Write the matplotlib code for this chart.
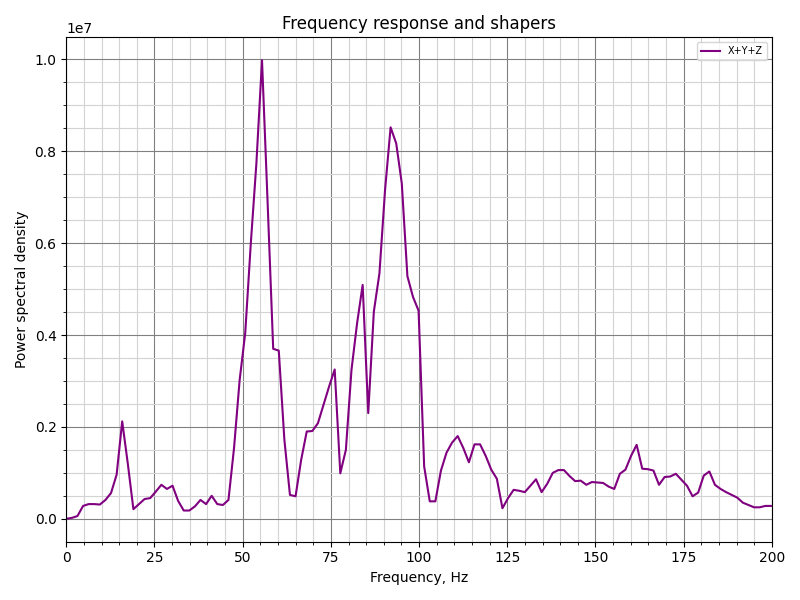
import matplotlib
matplotlib.use("Agg")
import matplotlib.pyplot as plt
import matplotlib.ticker
from matplotlib.font_manager import FontProperties

MAX_FREQ = 200

# frequency bins (Hz), ~1.585 Hz apart
FREQS = [
    0.00, 1.59, 3.17, 4.76, 6.34, 7.93, 9.51, 11.10, 12.68, 14.27,
    15.85, 17.44, 19.02, 20.61, 22.19, 23.78, 25.36, 26.95, 28.53, 30.12,
    31.70, 33.29, 34.87, 36.46, 38.04, 39.63, 41.21, 42.80, 44.38, 45.97,
    47.55, 49.14, 50.72, 52.31, 53.89, 55.48, 57.06, 58.65, 60.23, 61.82,
    63.40, 64.99, 66.57, 68.16, 69.74, 71.33, 72.91, 74.50, 76.08, 77.67,
    79.25, 80.84, 82.42, 84.01, 85.59, 87.18, 88.76, 90.35, 91.93, 93.52,
    95.10, 96.69, 98.27, 99.86, 101.44, 103.03, 104.61, 106.20, 107.78, 109.37,
    110.95, 112.54, 114.12, 115.71, 117.29, 118.88, 120.46, 122.05, 123.63, 125.22,
    126.80, 128.39, 129.97, 131.56, 133.14, 134.73, 136.31, 137.90, 139.48, 141.07,
    142.65, 144.24, 145.82, 147.41, 148.99, 150.58, 152.16, 153.75, 155.33, 156.92,
    158.50, 160.09, 161.67, 163.26, 164.84, 166.43, 168.01, 169.60, 171.18, 172.77,
    174.35, 175.94, 177.52, 179.11, 180.69, 182.28, 183.86, 185.45, 187.03, 188.62,
    190.20, 191.79, 193.37, 194.96, 196.54, 198.13, 199.71,
]

# summed X+Y+Z power spectral density, units of 1e6
PSD_E6 = [
    0.00, 0.02, 0.06, 0.28, 0.32, 0.32, 0.31, 0.41, 0.56, 0.96,
    2.12, 1.20, 0.21, 0.32, 0.43, 0.45, 0.59, 0.74, 0.65, 0.72,
    0.39, 0.18, 0.18, 0.27, 0.41, 0.32, 0.50, 0.32, 0.30, 0.41,
    1.54, 3.02, 4.04, 6.00, 7.74, 9.98, 6.90, 3.70, 3.66, 1.72,
    0.52, 0.49, 1.28, 1.90, 1.91, 2.08, 2.48, 2.88, 3.25, 0.99,
    1.50, 3.24, 4.25, 5.09, 2.30, 4.51, 5.34, 7.15, 8.52, 8.17,
    7.30, 5.28, 4.83, 4.53, 1.14, 0.38, 0.38, 1.05, 1.44, 1.66,
    1.80, 1.54, 1.23, 1.62, 1.62, 1.37, 1.07, 0.87, 0.23, 0.45,
    0.63, 0.61, 0.58, 0.72, 0.86, 0.58, 0.76, 1.00, 1.06, 1.06,
    0.93, 0.82, 0.83, 0.74, 0.80, 0.79, 0.78, 0.70, 0.65, 0.98,
    1.07, 1.37, 1.61, 1.09, 1.08, 1.05, 0.74, 0.91, 0.92, 0.98,
    0.85, 0.72, 0.49, 0.57, 0.94, 1.03, 0.74, 0.65, 0.58, 0.52,
    0.46, 0.35, 0.30, 0.25, 0.25, 0.28, 0.28,
]

psd = [v * 1e6 for v in PSD_E6]

fig, ax = plt.subplots()
fig.set_size_inches(8, 6)

ax.set_title("Frequency response and shapers")
ax.set_xlabel("Frequency, Hz")
ax.set_xlim([0, MAX_FREQ])
ax.set_ylabel("Power spectral density")

ax.plot(FREQS, psd, label="X+Y+Z", color="purple")

ax.xaxis.set_minor_locator(matplotlib.ticker.MultipleLocator(5))
ax.yaxis.set_minor_locator(matplotlib.ticker.AutoMinorLocator())
ax.ticklabel_format(axis="y", style="scientific", scilimits=(0, 0))
ax.grid(which="major", color="grey")
ax.grid(which="minor", color="lightgrey")

fontP = FontProperties()
fontP.set_size("x-small")
ax.legend(loc="upper right", prop=fontP)

fig.tight_layout()
fig.savefig("out.png", dpi=100)
